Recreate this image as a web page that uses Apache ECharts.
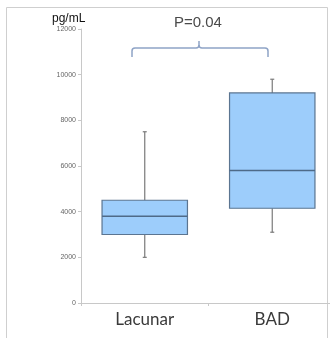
<!DOCTYPE html>
<html><head><meta charset="utf-8">
<script src="https://cdn.jsdelivr.net/npm/echarts@6/dist/echarts.min.js"></script>
<style>html,body{margin:0;padding:0;background:#fff}#c{width:330px;height:338px}</style>
</head><body><div id="c"></div>
<script>
var categories = ['Lacunar', 'BAD'];
// [whiskerLow, Q1, median, Q3, whiskerHigh]
var lacunarBox = [2000, 3000, 3800, 4500, 7500];
var badBox = [3100, 4150, 5800, 9200, 9800];
var yTicks = [0, 2000, 4000, 6000, 8000, 10000, 12000];
var pText = 'P=0.04';
var unitLabel = 'pg/mL';

var chart = echarts.init(document.getElementById('c'), null, {renderer: 'canvas'});
var data = [lacunarBox, badBox].map(function (b, i) { return [i].concat(b); });

function renderItem(params, api) {
  var x = api.value(0);
  var lo = api.coord([x, api.value(1)]);
  var q1 = api.coord([x, api.value(2)]);
  var med = api.coord([x, api.value(3)]);
  var q3 = api.coord([x, api.value(4)]);
  var hi = api.coord([x, api.value(5)]);
  var bw = api.size([1, 0])[0] * 0.67;
  var cx = lo[0];
  var l = cx - bw / 2, r = cx + bw / 2;
  var wStyle = {stroke: '#7a7a7a', lineWidth: 1.2};
  return {type: 'group', children: [
    {type: 'line', shape: {x1: cx, y1: q3[1], x2: cx, y2: hi[1]}, style: wStyle},
    {type: 'line', shape: {x1: cx, y1: q1[1], x2: cx, y2: lo[1]}, style: wStyle},
    {type: 'line', shape: {x1: cx - 2, y1: hi[1], x2: cx + 2, y2: hi[1]}, style: wStyle},
    {type: 'line', shape: {x1: cx - 2, y1: lo[1], x2: cx + 2, y2: lo[1]}, style: wStyle},
    {type: 'rect', shape: {x: l, y: q3[1], width: bw, height: q1[1] - q3[1]},
      style: {fill: '#9dcdfb', stroke: '#5b7591', lineWidth: 1.2}},
    {type: 'line', shape: {x1: l, y1: med[1], x2: r, y2: med[1]}, style: {stroke: '#4e6a88', lineWidth: 1.5}}
  ]};
}

var bStyle = {fill: null, stroke: '#8ea3c6', lineWidth: 1.5};
function ln(x1, y1, x2, y2) { return {type: 'line', shape: {x1: x1, y1: y1, x2: x2, y2: y2}, style: bStyle}; }
function qc(x1, y1, cx, cy, x2, y2) { return {type: 'bezierCurve', shape: {x1: x1, y1: y1, cpx1: cx, cpy1: cy, x2: x2, y2: y2}, style: bStyle}; }

chart.setOption({
  animation: false,
  grid: {left: 81, width: 255, top: 29, bottom: 35, containLabel: false, outerBoundsMode: 'none'},
  xAxis: {
    type: 'category', data: categories,
    axisLine: {lineStyle: {color: '#c8c8c8'}},
    axisTick: {show: true, length: 3, lineStyle: {color: '#c8c8c8'}},
    axisLabel: {fontSize: 17, color: '#3a3a3a', fontFamily: 'Lato', margin: 8}
  },
  yAxis: {
    type: 'value', min: yTicks[0], max: yTicks[yTicks.length - 1], interval: 2000,
    axisLine: {show: true, lineStyle: {color: '#c8c8c8'}},
    axisTick: {show: true, length: 3, lineStyle: {color: '#c8c8c8'}},
    splitLine: {show: false},
    axisLabel: {fontSize: 7, color: '#666', margin: 5, fontFamily: 'Liberation Sans',
      formatter: function (v) { return String(v); }}
  },
  series: [{type: 'custom', renderItem: renderItem, data: data, encode: {x: 0, y: [1, 2, 3, 4, 5]}}],
  graphic: [
    {type: 'rect', silent: true, shape: {x: 6.5, y: 7.5, width: 321, height: 340}, style: {fill: null, stroke: '#cfcfcf', lineWidth: 1}},
    {type: 'text', x: 52, y: 13, style: {text: unitLabel, fontSize: 12, fill: '#111', fontFamily: 'Liberation Sans'}},
    {type: 'text', x: 174, y: 15, style: {text: pText, fontSize: 15, fill: '#4a4a4a', fontFamily: 'Liberation Sans'}},
    {type: 'group', children: [
      ln(132, 57, 132, 51), qc(132, 51, 132, 48, 135, 48), ln(135, 48, 196, 48), qc(196, 48, 199, 48, 199, 45),
      ln(199, 45, 199, 41), qc(199, 45, 199, 48, 202, 48), ln(202, 48, 265, 48), qc(265, 48, 268, 48, 268, 51),
      ln(268, 51, 268, 57)
    ]}
  ]
});
</script></body></html>
